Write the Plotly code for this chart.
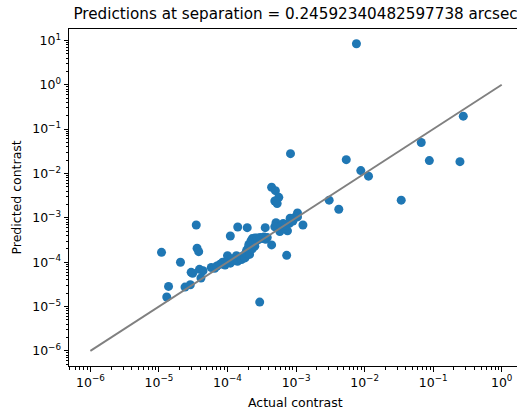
import plotly.graph_objects as go

# Scatter points (actual contrast, predicted contrast)
actual = [
    7.6e-3, 0.275, 0.067, 0.088, 0.246, 8.3e-4, 5.4e-3, 8.8e-3, 0.0114, 0.0342,
    3.04e-3, 4.2e-3, 4.4e-4, 5.0e-4, 5.6e-4, 4.9e-4, 5.3e-4, 1.05e-3, 9.8e-4, 8.2e-4,
    1.26e-3, 5.1e-4, 4.9e-4, 5.8e-4, 7.5e-4, 6.8e-4, 7.3e-4, 3.55e-4, 4.4e-4, 2.95e-4,
    1.41e-4, 1.94e-4, 1.1e-4, 3.5e-5, 3.6e-5, 3.8e-5, 1.09e-5, 2.06e-5, 2.95e-5, 3.1e-5,
    3.9e-5, 4.4e-5, 4.1e-5, 1.38e-5, 1.3e-5, 2.4e-5, 2.87e-5,
    5.8e-5, 6.5e-5, 7.0e-5, 7.8e-5, 8.5e-5, 9.2e-5, 1.0e-4, 1.0e-4, 1.1e-4, 1.15e-4,
    1.25e-4, 1.35e-4, 1.4e-4, 1.5e-4, 1.6e-4, 1.7e-4, 1.8e-4, 1.85e-4, 1.9e-4, 2.0e-4,
    2.05e-4, 2.1e-4, 2.2e-4, 2.2e-4, 2.3e-4, 2.4e-4, 2.5e-4, 2.6e-4, 2.7e-4, 2.8e-4,
    3.0e-4, 3.2e-4, 3.4e-4, 3.6e-4, 3.8e-4, 2.3e-4, 2.5e-4, 6.0e-4, 6.5e-4, 7.0e-4,
    8.0e-4, 9.0e-4, 1.05e-3,
]
predicted = [
    8.4, 0.196, 0.05, 0.0195, 0.0185, 0.028, 0.0205, 0.0116, 0.0087, 2.5e-3,
    2.5e-3, 1.56e-3, 4.9e-3, 4.1e-3, 2.9e-3, 2.4e-3, 2.1e-3, 1.29e-3, 1.05e-3, 9.8e-4,
    6.9e-4, 7.8e-4, 6.3e-4, 4.9e-4, 5.1e-4, 5.8e-4, 1.43e-4, 6.0e-4, 2.45e-4, 1.26e-5,
    6.2e-4, 6.0e-4, 3.9e-4, 6.9e-4, 2.06e-4, 1.73e-4, 1.67e-4, 1.0e-4, 5.9e-5, 5.6e-5,
    6.9e-5, 6.4e-5, 4.4e-5, 2.85e-5, 1.64e-5, 2.75e-5, 3.1e-5,
    7.6e-5, 7.3e-5, 8.2e-5, 9.0e-5, 1.0e-4, 8.6e-5, 1.05e-4, 1.4e-4, 9.5e-5, 1.2e-4,
    1.1e-4, 1.4e-4, 1.05e-4, 1.3e-4, 1.15e-4, 1.4e-4, 1.25e-4, 1.6e-4, 1.85e-4, 2.1e-4,
    2.5e-4, 1.5e-4, 3.0e-4, 2.4e-4, 3.4e-4, 2.8e-4, 3.5e-4, 3.0e-4, 3.5e-4, 3.2e-4,
    3.6e-4, 3.4e-4, 3.7e-4, 3.3e-4, 3.6e-4, 2.0e-4, 2.3e-4, 6.5e-4, 7.5e-4, 6.8e-4,
    7.5e-4, 8.5e-4, 1.05e-3,
]

# Identity reference line
line_x = [1e-6, 1.0]
line_y = [1e-6, 1.0]

x_tickvals = [1e-6, 1e-5, 1e-4, 1e-3, 1e-2, 1e-1, 1e0]
x_ticktext = ["10<sup>−6</sup>", "10<sup>−5</sup>", "10<sup>−4</sup>", "10<sup>−3</sup>",
              "10<sup>−2</sup>", "10<sup>−1</sup>", "10<sup>0</sup>"]
y_tickvals = [1e-6, 1e-5, 1e-4, 1e-3, 1e-2, 1e-1, 1e0, 1e1]
y_ticktext = ["10<sup>−6</sup>", "10<sup>−5</sup>", "10<sup>−4</sup>", "10<sup>−3</sup>",
              "10<sup>−2</sup>", "10<sup>−1</sup>", "10<sup>0</sup>", "10<sup>1</sup>"]

minor_x = [k * 10.0 ** e for e in range(-7, 1) for k in range(2, 10)]
minor_y = [k * 10.0 ** e for e in range(-7, 2) for k in range(2, 10)]

title_text = "Predictions at separation = 0.24592340482597738 arcsec"
x_title = "Actual contrast"
y_title = "Predicted contrast"

W, H = 517, 412
L, R, T, B = 69, 0, 29, 46

fig = go.Figure()
fig.add_trace(go.Scatter(
    x=actual, y=predicted, mode="markers",
    marker=dict(color="#1f77b4", size=9, line=dict(width=0)),
    showlegend=False,
))
fig.add_trace(go.Scatter(
    x=line_x, y=line_y, mode="lines",
    line=dict(color="#808080", width=1.9),
    showlegend=False,
))

axis_font = dict(family="DejaVu Sans", size=12.5, color="black")
pw = W - L - R
ph = H - T - B

fig.update_layout(
    width=W, height=H,
    margin=dict(l=L, r=R, t=T, b=B, autoexpand=False),
    paper_bgcolor="white", plot_bgcolor="white",
    font=dict(family="DejaVu Sans", size=12.5, color="black"),
    title=dict(text=title_text, font=dict(family="DejaVu Sans", size=15.2, color="black"),
               xref="paper", x=(295.6 - L) / pw, xanchor="center",
               yref="container", y=1 - 14 / H, yanchor="middle"),
    xaxis=dict(
        type="log", range=[-6.312, 0.223], automargin=False,
        tickmode="array", tickvals=x_tickvals, ticktext=x_ticktext,
        ticks="outside", ticklen=4.5, tickwidth=1, tickcolor="black",
        minor=dict(tickmode="array", tickvals=minor_x, ticks="outside", ticklen=2.5,
                   tickwidth=0.8, tickcolor="black", showgrid=False),
        showgrid=False, zeroline=False,
        showline=True, linecolor="black", linewidth=1, mirror=True,
        tickfont=axis_font,
    ),
    yaxis=dict(
        type="log", range=[-6.34, 1.257], automargin=False,
        tickmode="array", tickvals=y_tickvals, ticktext=y_ticktext,
        ticks="outside", ticklen=4.5, tickwidth=1, tickcolor="black",
        minor=dict(tickmode="array", tickvals=minor_y, ticks="outside", ticklen=2.5,
                   tickwidth=0.8, tickcolor="black", showgrid=False),
        showgrid=False, zeroline=False,
        showline=True, linecolor="black", linewidth=1, mirror=False,
        tickfont=axis_font,
    ),
    annotations=[
        dict(text=x_title, xref="paper", yref="paper",
             x=(295.6 - L) / pw, y=-(402.5 - (H - B)) / ph - 0.0,
             xanchor="center", yanchor="middle", showarrow=False, font=axis_font),
        dict(text=y_title, xref="paper", yref="paper",
             x=-(L - 16) / pw, y=0.5, textangle=-90,
             xanchor="center", yanchor="middle", showarrow=False, font=axis_font),
    ],
)

fig.write_html("out.html", config={"displayModeBar": False},
               post_script="document.body.style.margin='0';")
